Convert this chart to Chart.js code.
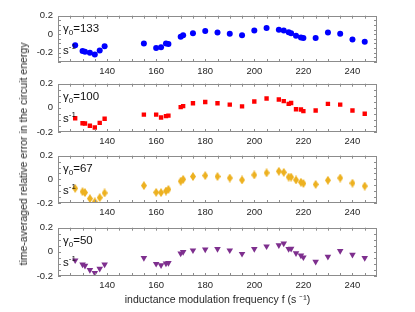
<!DOCTYPE html>
<html>
<head>
<meta charset="utf-8">
<script src="https://cdn.jsdelivr.net/npm/chart.js@4.4.1/dist/chart.umd.min.js"></script>
<style>
    body {
        margin: 0;
        width: 415px;
        height: 312px;
        background: #ffffff;
        position: relative;
        overflow: hidden;
        font-family: "Liberation Sans", Arial, sans-serif;
    }
    .panel {
        position: absolute;
        left: 0;
        width: 415px;
    }
    #yTitle {
        position: absolute;
        left: 22.5px;
        top: 153.5px;
        transform: translate(-50%, -50%) rotate(-90deg);
        white-space: nowrap;
        font-size: 10.5px;
        color: #262626;
    }
</style>
</head>
<body>

<div class="panel" style="top:5px; height:75px;"><canvas id="panel1"></canvas></div>
<div class="panel" style="top:73px; height:77px;"><canvas id="panel2"></canvas></div>
<div class="panel" style="top:145px; height:76px;"><canvas id="panel3"></canvas></div>
<div class="panel" style="top:217px; height:95px;"><canvas id="panel4"></canvas></div>
<div id="yTitle">time-averaged relative error in the circuit energy</div>

<script>
// ======================================================
// Data
// ======================================================

const frequency = [127, 130, 131, 133, 135, 137, 139, 155, 160, 162, 164, 165, 170, 171, 175, 180,
    185, 190, 195, 200, 205, 210, 212, 214, 215, 217, 219, 220, 225, 230, 235, 240, 245];

const error133 = [-0.12, -0.18, -0.19, -0.20, -0.22, -0.175, -0.13, -0.10, -0.15, -0.14, -0.10, -0.105, -0.027, -0.01, 0.01, 0.035,
    0.018, 0.004, -0.01, 0.04, 0.068, 0.047, 0.04, 0.02, 0.01, -0.017, -0.035, -0.04, -0.042, 0.018, 0.005, -0.057, -0.08];

const error100 = [-0.086, -0.127, -0.13, -0.148, -0.163, -0.124, -0.09, -0.056, -0.056, -0.08, -0.069, -0.064, 0.006, 0.014, 0.038, 0.048,
    0.038, 0.027, 0.012, 0.053, 0.077, 0.069, 0.056, 0.033, 0.04, -0.012, -0.014, -0.027, -0.022, 0.033, 0.027, -0.022, -0.049];

const error67 = [-0.076, -0.104, -0.112, -0.163, -0.19, -0.155, -0.115, -0.053, -0.11, -0.112, -0.099, -0.085, -0.016, 0, 0.024, 0.032,
    0.024, 0.011, -0.005, 0.037, 0.055, 0.068, 0.059, 0.019, 0.019, -0.005, -0.024, -0.035, -0.043, -0.008, 0.011, -0.032, -0.057];

const error50 = [-0.07, -0.104, -0.115, -0.15, -0.174, -0.139, -0.104, -0.05, -0.099, -0.11, -0.096, -0.091, -0.013, 0, 0.013, 0.02,
    0.024, 0.013, -0.016, 0.024, 0.046, 0.056, 0.07, 0.024, 0.027, -0.011, -0.029, -0.045, -0.082, -0.04, 0.008, -0.024, -0.05];

const gammaLabels = ["133", "100", "67", "50"];

// labelled ticks; unlabelled minor ticks every 5 (x) and 0.05 (y)
const xTickLabels = [140, 160, 180, 200, 220, 240];
const yTickLabels = [-0.2, 0, 0.2];


// ======================================================
// Marker for the stretched diamond
// ======================================================

function makeDiamond(color) {
    const c = document.createElement("canvas");
    c.width = 6;
    c.height = 9;
    const g = c.getContext("2d");
    g.fillStyle = color;
    g.beginPath();
    g.moveTo(3, 0);
    g.lineTo(6, 4.5);
    g.lineTo(3, 9);
    g.lineTo(0, 4.5);
    g.closePath();
    g.fill();
    return c;
}


// ======================================================
// Box, inward ticks and gamma label
// ======================================================

const framePlugin = {
    id: "frame",
    afterDraw(chart, args, opts) {
        const ctx = chart.ctx;
        const a = chart.chartArea;
        const xs = chart.scales.x;
        const ys = chart.scales.y;
        ctx.save();
        ctx.strokeStyle = "#8c8c8c";
        ctx.lineWidth = 1;
        ctx.strokeRect(Math.round(a.left) + 0.5, Math.round(a.top) + 0.5,
            Math.round(a.right - a.left) - 1, Math.round(a.bottom - a.top) - 1);

        ctx.beginPath();
        xs.ticks.forEach(t => {
            const px = Math.round(xs.getPixelForValue(t.value)) + 0.5;
            ctx.moveTo(px, a.top);
            ctx.lineTo(px, a.top + 3);
            ctx.moveTo(px, a.bottom);
            ctx.lineTo(px, a.bottom - 3);
        });
        ys.ticks.forEach(t => {
            const py = Math.round(ys.getPixelForValue(t.value)) + 0.5;
            ctx.moveTo(a.left, py);
            ctx.lineTo(a.left + 3, py);
            ctx.moveTo(a.right, py);
            ctx.lineTo(a.right - 3, py);
        });
        ctx.stroke();

        // gamma_0 = ... s^-1
        const x0 = a.left + 5;
        const y0 = a.top + 16;
        ctx.fillStyle = "#111111";
        ctx.textBaseline = "alphabetic";
        ctx.textAlign = "left";
        ctx.font = "11.5px 'Liberation Sans', Arial, sans-serif";
        ctx.fillText("\u03B3", x0, y0);
        let w = ctx.measureText("\u03B3").width;
        ctx.font = "8px 'Liberation Sans', Arial, sans-serif";
        ctx.fillText("0", x0 + w, y0 + 3);
        w += ctx.measureText("0").width;
        ctx.font = "11.5px 'Liberation Sans', Arial, sans-serif";
        ctx.fillText("=" + opts.gamma, x0 + w, y0);

        const y1 = a.top + 38.5;
        ctx.fillText("s", x0, y1);
        const ws = ctx.measureText("s").width;
        ctx.font = "8px 'Liberation Sans', Arial, sans-serif";
        ctx.fillText("-1", x0 + ws, y1 - 5);
        ctx.restore();
    }
};


// ======================================================
// Build one panel
// ======================================================

function buildPanel(canvasId, values, gamma, color, pointStyle, radius, rotation, yMin, xAxisHeight, showTitle) {

    const ctx = document.getElementById(canvasId).getContext("2d");

    return new Chart(ctx, {
        type: "scatter",
        data: {
            datasets: [{
                data: frequency.map((f, i) => ({ x: f, y: values[i] })),
                backgroundColor: color,
                borderColor: color,
                borderWidth: 0,
                pointStyle: pointStyle,
                pointRadius: radius,
                rotation: rotation
            }]
        },
        options: {
            responsive: true,
            maintainAspectRatio: false,
            animation: false,
            layout: {
                padding: { left: 0, right: 38, top: 8, bottom: 0 }
            },
            plugins: {
                legend: { display: false },
                tooltip: { enabled: false },
                frame: { gamma: gamma }
            },
            scales: {
                x: {
                    type: "linear",
                    min: 120,
                    max: 250,
                    afterFit: s => { s.height = xAxisHeight; },
                    afterBuildTicks: s => {
                        const ticks = [];
                        for (let v = 125; v < 250; v += 5) ticks.push({ value: v });
                        s.ticks = ticks;
                    },
                    grid: { display: false, drawTicks: false },
                    border: { display: false },
                    ticks: {
                        autoSkip: false,
                        maxRotation: 0,
                        padding: 4,
                        color: "#262626",
                        font: { size: 9.5, family: "'Liberation Sans', Arial, sans-serif" },
                        callback: v => xTickLabels.includes(Math.round(v)) ? String(Math.round(v)) : ""
                    },
                    title: {
                        display: showTitle,
                        text: "inductance modulation frequency f (s \u207B\u00B9)",
                        color: "#262626",
                        font: { size: 10.5, family: "'Liberation Sans', Arial, sans-serif" },
                        padding: { top: 0, bottom: 6 }
                    }
                },
                y: {
                    min: yMin,
                    max: 0.2,
                    afterFit: s => { s.width = 58; },
                    afterBuildTicks: s => {
                        const ticks = [];
                        for (let k = Math.round(yMin / 0.05); k <= 4; k++) ticks.push({ value: k * 0.05 });
                        s.ticks = ticks;
                    },
                    grid: { display: false, drawTicks: false },
                    border: { display: false },
                    ticks: {
                        autoSkip: false,
                        padding: 5,
                        color: "#262626",
                        font: { size: 9.5, family: "'Liberation Sans', Arial, sans-serif" },
                        callback: v => {
                            const hit = yTickLabels.find(t => Math.abs(t - v) < 1e-6);
                            return hit === undefined ? "" : String(hit);
                        }
                    }
                }
            }
        },
        plugins: [framePlugin]
    });
}


// ======================================================
// Create the four panels
// ======================================================

buildPanel("panel1", error133, gammaLabels[0], "#0000ff", "circle", 3, 0, -0.3, 18, false);
buildPanel("panel2", error100, gammaLabels[1], "#ff0000", "rect", 3.1, 0, -0.2, 18, false);
buildPanel("panel3", error67, gammaLabels[2], "#edb120", makeDiamond("#edb120"), 3.5, 0, -0.2, 18, false);
buildPanel("panel4", error50, gammaLabels[3], "#7e2f8e", "triangle", 3.8, 180, -0.2, 36, true);
</script>
</body>
</html>
